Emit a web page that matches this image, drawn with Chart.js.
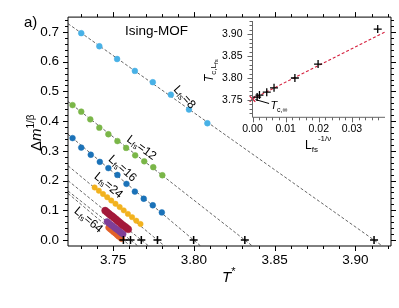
<!doctype html>
<html lang="en">
<head>
<meta charset="utf-8">
<title>Ising-MOF</title>
<script src="https://cdn.jsdelivr.net/npm/chart.js"></script>
<style>
  body { margin: 0; background: #fff; }
  #wrap { position: relative; width: 399px; height: 308px; }
  #main { position: absolute; left: 0; top: 0; }
  #inset { position: absolute; left: 200px; top: 0; }
</style>
</head>
<body>
<div id="wrap">
  <canvas id="main" width="399" height="308"></canvas>
  <canvas id="inset" width="199" height="160"></canvas>
</div>
<script>
// system sizes and critical temperatures (crosses)
const sizes = [8, 12, 16, 24, 32, 48, 64];
const tcL = [3.9115, 3.8315, 3.7998, 3.7774, 3.7674, 3.7607, 3.7563];
const invL = [0.0378, 0.0198, 0.0128, 0.0065, 0.0043, 0.0021, 0.0014];
// value of each dashed fit line at the left edge (T* = 3.722)
const fitLeft = [0.728, 0.466, 0.356, 0.25, 0.20, 0.165, 0.157];

// dots
const t8  = [3.7302, 3.7414, 3.7524, 3.7634, 3.7745, 3.7857, 3.7969, 3.8083];
const m8  = [0.696, 0.652, 0.609, 0.569, 0.531, 0.489, 0.439, 0.393];
const t12 = [3.7248, 3.7302, 3.7358, 3.7414, 3.7470, 3.7526, 3.7580, 3.7636, 3.7692, 3.7748, 3.7804];
const m12 = [0.454, 0.432, 0.406, 0.378, 0.356, 0.333, 0.310, 0.285, 0.265, 0.245, 0.218];
const t16 = [3.7248, 3.7302, 3.7361, 3.7417, 3.7470, 3.7526, 3.7582, 3.7634, 3.7689, 3.7745, 3.7801];
const m16 = [0.343, 0.311, 0.287, 0.263, 0.242, 0.219, 0.189, 0.163, 0.139, 0.117, 0.093];
const t24 = [3.7385, 3.7411, 3.7437, 3.7463, 3.7488, 3.7514, 3.7540, 3.7565, 3.7591, 3.7617, 3.7643, 3.7669];
const m24 = [0.177, 0.166, 0.155, 0.144, 0.133, 0.122, 0.111, 0.100, 0.088, 0.077, 0.065, 0.054];
const t32 = [3.7450, 3.7461, 3.7472, 3.7483, 3.7494, 3.7505, 3.7516, 3.7527, 3.7538, 3.7549, 3.7560, 3.7571, 3.7582, 3.7593];
const m32 = [0.099, 0.094, 0.089, 0.084, 0.080, 0.075, 0.070, 0.065, 0.060, 0.055, 0.050, 0.046, 0.041, 0.036];
const t48 = [3.7462, 3.7473, 3.7484, 3.7495, 3.7506, 3.7517, 3.7528, 3.7539, 3.7550, 3.7561];
const m48 = [0.062, 0.057, 0.052, 0.048, 0.043, 0.038, 0.034, 0.029, 0.024, 0.020];
const t64 = [3.7472, 3.7482, 3.7492, 3.7502, 3.7512, 3.7522, 3.7532, 3.7542, 3.7552];
const m64 = [0.042, 0.037, 0.033, 0.028, 0.024, 0.019, 0.014, 0.010, 0.005];

const dotT = [t8, t12, t16, t24, t32, t48, t64];
const dotM = [m8, m12, m16, m24, m32, m48, m64];
const dotColors = ['#48b1e6', '#7ab648', '#1b72b8', '#f2b21e', '#a3193b', '#7f3f98', '#e2622b'];
const dotRadius = [2.9, 2.9, 2.9, 2.7, 3.5, 3.1, 3.1];

// tick labels
const xTicks = [3.75, 3.80, 3.85, 3.90];
const yTicks = [0.0, 0.1, 0.2, 0.3, 0.4, 0.5, 0.6, 0.7];
const insetXTicks = [0.00, 0.01, 0.02, 0.03];
const insetYTicks = [3.75, 3.80, 3.85, 3.90];

// inset fit line end points and extrapolated Tc
const insetFitX = [0.0, 0.04];
const insetFitY = [3.752, 3.905];
const tcInf = 3.752;

const FONT = "'Liberation Sans', Arial, sans-serif";
Chart.defaults.font.family = FONT;
Chart.defaults.color = '#000';

const T_MIN = 3.722, T_MAX = 3.922;

function range(a, b, step) {
  const out = [];
  for (let k = Math.ceil(a / step - 1e-6); k * step <= b + 1e-9; k++) out.push(+(k * step).toFixed(6));
  return out;
}

// texte avec indices / exposants
function drawRuns(ctx, x, y, runs, angle, center) {
  ctx.save();
  ctx.translate(x, y);
  ctx.rotate(angle || 0);
  let w = 0;
  runs.forEach(r => { ctx.font = r.f; w += ctx.measureText(r.t).width; });
  let cx = center ? -w / 2 : 0;
  ctx.fillStyle = '#000';
  ctx.textBaseline = center ? 'middle' : 'alphabetic';
  runs.forEach(r => {
    ctx.font = r.f;
    ctx.fillText(r.t, cx, r.dy || 0);
    cx += ctx.measureText(r.t).width;
  });
  ctx.restore();
}

// cadre + graduations vers l'extérieur
const frame = {
  id: 'frame',
  afterDraw(chart, args, o) {
    const ctx = chart.ctx, a = chart.chartArea;
    const sx = chart.scales.x, sy = chart.scales.y;
    ctx.save();
    ctx.strokeStyle = o.color;
    ctx.lineWidth = 1;
    ctx.beginPath();
    if (o.sides.includes('left')) { ctx.moveTo(a.left, a.top); ctx.lineTo(a.left, a.bottom); }
    if (o.sides.includes('bottom')) { ctx.moveTo(a.left, a.bottom); ctx.lineTo(a.right, a.bottom); }
    if (o.sides.includes('top')) { ctx.moveTo(a.left, a.top); ctx.lineTo(a.right, a.top); }
    if (o.sides.includes('right')) { ctx.moveTo(a.right, a.top); ctx.lineTo(a.right, a.bottom); }
    const isMajor = (v, list) => list.some(m => Math.abs(m - v) < 1e-6);
    range(sx.min, sx.max, o.xStep).forEach(v => {
      const p = Math.round(sx.getPixelForValue(v)) + 0.5;
      const len = isMajor(v, o.xMajor) ? 5 : 3;
      if (p < a.left || p > a.right) return;
      if (o.sides.includes('bottom')) { ctx.moveTo(p, a.bottom); ctx.lineTo(p, a.bottom + len); }
      if (o.sides.includes('top')) { ctx.moveTo(p, a.top); ctx.lineTo(p, a.top - len); }
    });
    range(sy.min, sy.max, o.yStep).forEach(v => {
      const p = Math.round(sy.getPixelForValue(v)) + 0.5;
      const len = isMajor(v, o.yMajor) ? 5 : 3;
      if (p < a.top || p > a.bottom) return;
      if (o.sides.includes('left')) { ctx.moveTo(a.left, p); ctx.lineTo(a.left - len, p); }
      if (o.sides.includes('right')) { ctx.moveTo(a.right, p); ctx.lineTo(a.right + len, p); }
    });
    ctx.stroke();
    ctx.restore();
  }
};

// textes du graphique principal
const mainText = {
  id: 'mainText',
  afterDraw(chart) {
    const ctx = chart.ctx, sx = chart.scales.x, sy = chart.scales.y;
    drawRuns(ctx, 24, 27, [{ t: 'a)', f: '15px ' + FONT }]);
    drawRuns(ctx, 125, 35, [{ t: 'Ising-MOF', f: '13.5px ' + FONT }]);
    drawRuns(ctx, 41, 151, [
      { t: 'Δ', f: '15px ' + FONT },
      { t: 'm', f: 'italic 15px ' + FONT },
      { t: '1/β', f: '10px ' + FONT, dy: -7 }
    ], -Math.PI / 2);
    drawRuns(ctx, 222, 282, [
      { t: 'T', f: 'italic 15px ' + FONT },
      { t: '*', f: '11px ' + FONT, dy: -7 }
    ]);
    const labs = [
      { L: 8, t: 3.7940, m: 0.480, a: 48 },
      { L: 12, t: 3.7675, m: 0.31, a: 36 },
      { L: 16, t: 3.7557, m: 0.24, a: 42 },
      { L: 24, t: 3.7470, m: 0.183, a: 40 },
      { L: 64, t: 3.7346, m: 0.067, a: 40 }
    ];
    labs.forEach(l => {
      drawRuns(ctx, sx.getPixelForValue(l.t), sy.getPixelForValue(l.m), [
        { t: 'L', f: '12px ' + FONT },
        { t: 'fs', f: '8px ' + FONT, dy: 3 },
        { t: '=' + l.L, f: '12px ' + FONT }
      ], l.a * Math.PI / 180, true);
    });
  }
};

const mainSets = [];
sizes.forEach((L, i) => {
  const slope = fitLeft[i] / (tcL[i] - T_MIN);
  mainSets.push({
    data: [{ x: T_MIN, y: fitLeft[i] }, { x: tcL[i] + 0.02 / slope, y: -0.02 }],
    showLine: true, pointRadius: 0, borderColor: '#555', borderWidth: 0.9,
    borderDash: [3, 2], order: 3
  });
  mainSets.push({
    data: dotT[i].map((t, k) => ({ x: t, y: dotM[i][k] })),
    pointRadius: dotRadius[i], backgroundColor: dotColors[i],
    borderColor: dotColors[i], borderWidth: 0.5, order: 2
  });
});
mainSets.push({
  data: tcL.map(t => ({ x: t, y: 0 })),
  pointStyle: 'cross', pointRadius: 4, borderColor: '#000', borderWidth: 1.5, order: 0
});

new Chart(document.getElementById('main'), {
  type: 'scatter',
  data: { datasets: mainSets },
  options: {
    responsive: false, animation: false,
    layout: { padding: { top: 15, right: 8, left: 0, bottom: 0 } },
    plugins: {
      legend: { display: false }, tooltip: { enabled: false },
      frame: { color: '#000', sides: ['left', 'bottom', 'top', 'right'], xStep: 0.01, yStep: 0.02, xMajor: xTicks, yMajor: yTicks }
    },
    scales: {
      x: {
        type: 'linear', min: T_MIN, max: T_MAX,
        grid: { display: false, drawTicks: false }, border: { display: false },
        afterBuildTicks: s => { s.ticks = xTicks.map(v => ({ value: v })); },
        afterFit: s => { s.height = 62; },
        ticks: { font: { size: 13.5 }, padding: 6, maxRotation: 0, callback: v => v.toFixed(2) }
      },
      y: {
        type: 'linear', min: -0.02, max: 0.75,
        grid: { display: false, drawTicks: false }, border: { display: false },
        afterBuildTicks: s => { s.ticks = yTicks.map(v => ({ value: v })); },
        afterFit: s => { s.width = 68; },
        ticks: { font: { size: 13.5 }, padding: 9, callback: v => v.toFixed(1) }
      }
    }
  },
  plugins: [frame, mainText]
});

// encart
const insetText = {
  id: 'insetText',
  afterDraw(chart) {
    const ctx = chart.ctx, sx = chart.scales.x, sy = chart.scales.y;
    drawRuns(ctx, 13, 82, [
      { t: 'T', f: 'italic 12px ' + FONT },
      { t: 'c,', f: '8px ' + FONT, dy: 3 },
      { t: 'L', f: '8px ' + FONT, dy: 3 },
      { t: 'fs', f: '6px ' + FONT, dy: 5 }
    ], -Math.PI / 2);
    drawRuns(ctx, 105, 149, [
      { t: 'L', f: '12px ' + FONT },
      { t: 'fs', f: '8px ' + FONT, dy: 3 },
      { t: '-1/ν', f: '8px ' + FONT, dy: -8 }
    ]);
    // flèche vers Tc,inf
    ctx.save();
    ctx.strokeStyle = '#000';
    ctx.lineWidth = 1;
    ctx.beginPath();
    ctx.moveTo(sx.getPixelForValue(0.0009), sy.getPixelForValue(3.7505));
    ctx.lineTo(sx.getPixelForValue(0.0050), sy.getPixelForValue(3.7415));
    ctx.stroke();
    ctx.restore();
    drawRuns(ctx, sx.getPixelForValue(0.0054), sy.getPixelForValue(3.728), [
      { t: 'T', f: 'italic 11px ' + FONT },
      { t: 'c,∞', f: '7px ' + FONT, dy: 3 }
    ]);
  }
};

new Chart(document.getElementById('inset'), {
  type: 'scatter',
  data: {
    datasets: [
      {
        data: invL.map((x, k) => ({ x: x, y: tcL[k] })),
        pointStyle: 'cross', pointRadius: 4, borderColor: '#000', borderWidth: 1.3, order: 0
      },
      {
        data: [{ x: 0, y: tcInf }],
        pointStyle: 'crossRot', pointRadius: 4, borderColor: '#d6223f', borderWidth: 1.3, clip: false, order: 1
      },
      {
        data: insetFitX.map((x, k) => ({ x: x, y: insetFitY[k] })),
        showLine: true, pointRadius: 0, borderColor: '#d6223f', borderWidth: 1.1,
        borderDash: [3, 2], order: 2
      }
    ]
  },
  options: {
    responsive: false, animation: false,
    layout: { padding: { top: 21, right: 14, left: 0, bottom: 0 } },
    plugins: {
      legend: { display: false }, tooltip: { enabled: false },
      frame: { color: '#666', sides: ['left', 'bottom'], xStep: 0.002, yStep: 0.01, xMajor: insetXTicks, yMajor: insetYTicks }
    },
    scales: {
      x: {
        type: 'linear', min: 0, max: 0.04,
        grid: { display: false, drawTicks: false }, border: { display: false },
        afterBuildTicks: s => { s.ticks = insetXTicks.map(v => ({ value: v })); },
        afterFit: s => { s.height = 42.7; },
        ticks: { font: { size: 10.5 }, padding: 6, maxRotation: 0, callback: v => v.toFixed(2) }
      },
      y: {
        type: 'linear', min: 3.71, max: 3.93,
        grid: { display: false, drawTicks: false }, border: { display: false },
        afterBuildTicks: s => { s.ticks = insetYTicks.map(v => ({ value: v })); },
        afterFit: s => { s.width = 52.5; },
        ticks: { font: { size: 10.5 }, padding: 10, callback: v => v.toFixed(2) }
      }
    }
  },
  plugins: [frame, insetText]
});
</script>
</body>
</html>
